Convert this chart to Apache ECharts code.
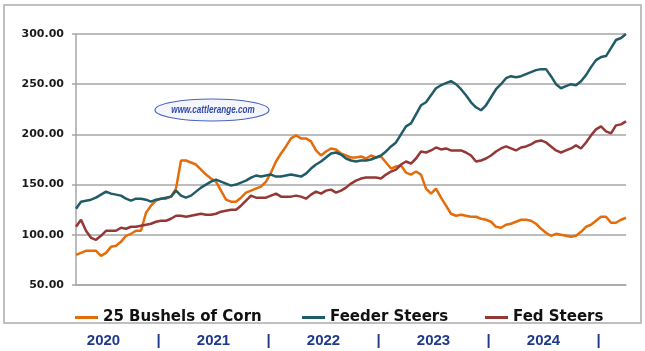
<!DOCTYPE html>
<html>
<head>
<meta charset="utf-8">
<script src="https://cdn.jsdelivr.net/npm/echarts@6/dist/echarts.min.js"></script>
<style>
  html, body { margin: 0; padding: 0; background: #fff; }
  #chart { width: 645px; height: 351px; }
</style>
</head>
<body>
<div id="chart"></div>
<script>
// values, roughly every 2 weeks, Jan 2020 -> end 2024
const corn = [
  80, 82, 84, 84, 84, 79, 82, 88, 89, 93, 99, 101, 104, 104, 122, 129, 134, 136, 136, 138,
  146, 174, 174, 172, 170, 165, 160, 156, 153, 144, 135, 133, 133, 137, 142, 144, 146, 148, 153, 162,
  173, 181, 188, 196, 199, 196, 196, 193, 184, 179, 183, 186, 185, 181, 179, 177, 177, 178, 176, 179,
  177, 178, 172, 166, 168, 169, 162, 160, 163, 160, 146, 141, 146, 137, 129, 121, 119, 120, 119, 118,
  118, 116, 115, 113, 108, 107, 110, 111, 113, 115, 115, 114, 111, 106, 102, 99, 101, 100, 99, 98,
  99, 103, 108, 110, 114, 118, 118, 112, 112, 115, 117
]
const feederSteers = [
  126, 133, 134, 135, 137, 140, 143, 141, 140, 139, 136, 134, 136, 136, 135, 133, 135, 136, 137, 138,
  144, 139, 137, 139, 143, 147, 150, 153, 155, 153, 151, 149, 150, 152, 154, 157, 159, 158, 159, 160,
  158, 158, 159, 160, 159, 158, 161, 166, 170, 173, 177, 181, 182, 180, 176, 174, 173, 174, 174, 175,
  177, 179, 183, 188, 192, 200, 208, 211, 220, 229, 232, 239, 246, 249, 251, 253, 250, 245, 239, 232,
  227, 224, 229, 237, 245, 250, 256, 258, 257, 258, 260, 262, 264, 265, 265, 258, 250, 246, 248, 250,
  249, 253, 259, 267, 274, 277, 278, 286, 294, 296, 300
]
const fedSteers = [
  108, 115, 104, 97, 95, 99, 104, 104, 104, 107, 106, 108, 108, 109, 110, 111, 113, 114, 114, 116,
  119, 119, 118, 119, 120, 121, 120, 120, 121, 123, 124, 125, 125, 129, 134, 139, 137, 137, 137, 139,
  141, 138, 138, 138, 139, 138, 136, 140, 143, 141, 144, 145, 142, 144, 147, 151, 154, 156, 157, 157,
  157, 156, 160, 163, 165, 170, 173, 171, 176, 183, 182, 184, 187, 185, 186, 184, 184, 184, 182, 179,
  173, 174, 176, 179, 183, 186, 188, 186, 184, 187, 188, 190, 193, 194, 192, 188, 184, 182, 184, 186,
  189, 186, 192, 199, 205, 208, 203, 201, 209, 210, 213
]
const periods = corn.map((v, i) => i)
const yearLabels = ['2020', '|', '2021', '|', '2022', '|', '2023', '|', '2024', '|']
const seriesNames = ['25 Bushels of Corn', 'Feeder Steers', 'Fed Steers']
const colors = ['#e46c0a', '#1f5c66', '#953735']

const chart = echarts.init(document.getElementById('chart'))

const legendFont = {
  fontFamily: 'DejaVu Sans',
  fontWeight: 'bold',
  fontSize: 15,
  color: '#111'
}
const legendBase = { top: 305, icon: 'rect', itemWidth: 23, itemHeight: 3, textStyle: legendFont }

chart.setOption({
  animation: false,
  color: colors,
  grid: {
    left: 76,
    right: 19,
    top: 34,
    bottom: 66
  },
  legend: [
    Object.assign({ left: 70, data: [seriesNames[0]] }, legendBase),
    Object.assign({ left: 297, data: [seriesNames[1]] }, legendBase),
    Object.assign({ left: 480, data: [seriesNames[2]] }, legendBase)
  ],
  xAxis: [{
    type: 'category',
    data: periods,
    boundaryGap: false,
    axisLine: { lineStyle: { color: '#a6a6a6', width: 1.5 } },
    axisTick: { show: false },
    axisLabel: { show: false }
  }, {
    type: 'category',
    data: yearLabels,
    position: 'bottom',
    offset: 40,
    boundaryGap: true,
    axisLine: { show: false },
    axisTick: { show: false },
    axisLabel: {
      margin: 8,
      fontFamily: 'Liberation Sans',
      fontWeight: 'bold',
      fontSize: 15,
      color: '#1f3a8a'
    }
  }],
  yAxis: {
    type: 'value',
    min: 50,
    max: 300,
    interval: 50,
    axisLine: { show: true, lineStyle: { color: '#a6a6a6', width: 1.5 } },
    axisTick: { show: true, length: 4, lineStyle: { color: '#a6a6a6', width: 1.5 } },
    axisLabel: {
      margin: 12,
      formatter: v => v.toFixed(2),
      fontFamily: 'DejaVu Sans',
      fontWeight: 'bold',
      fontSize: 11,
      color: '#1a1a1a'
    },
    splitLine: { lineStyle: { color: '#a6a6a6', width: 1.5 } }
  },
  graphic: [{
    type: 'rect',
    shape: { x: 4, y: 5, width: 637, height: 318 },
    style: { fill: 'none', stroke: '#bfbfbf', lineWidth: 2 },
    z: -10
  }, {
    type: 'ellipse',
    shape: { cx: 212, cy: 110, rx: 57, ry: 11 },
    style: { fill: '#f4f6fc', stroke: '#4a62c0', lineWidth: 1.2 },
    z: 1
  }, {
    type: 'text',
    x: 213,
    y: 110,
    scaleX: 0.74,
    style: {
      text: 'www.cattlerange.com',
      align: 'center',
      verticalAlign: 'middle',
      fontFamily: 'Liberation Sans',
      fontStyle: 'italic',
      fontWeight: 'bold',
      fontSize: 11,
      fill: '#2f4aa8'
    },
    z: 2
  }],
  series: [{
    name: seriesNames[0],
    type: 'line',
    data: corn,
    symbol: 'none',
    lineStyle: { width: 2.5 }
  }, {
    name: seriesNames[1],
    type: 'line',
    data: feederSteers,
    symbol: 'none',
    lineStyle: { width: 2.5 }
  }, {
    name: seriesNames[2],
    type: 'line',
    data: fedSteers,
    symbol: 'none',
    lineStyle: { width: 2.5 }
  }]
})
</script>
</body>
</html>
